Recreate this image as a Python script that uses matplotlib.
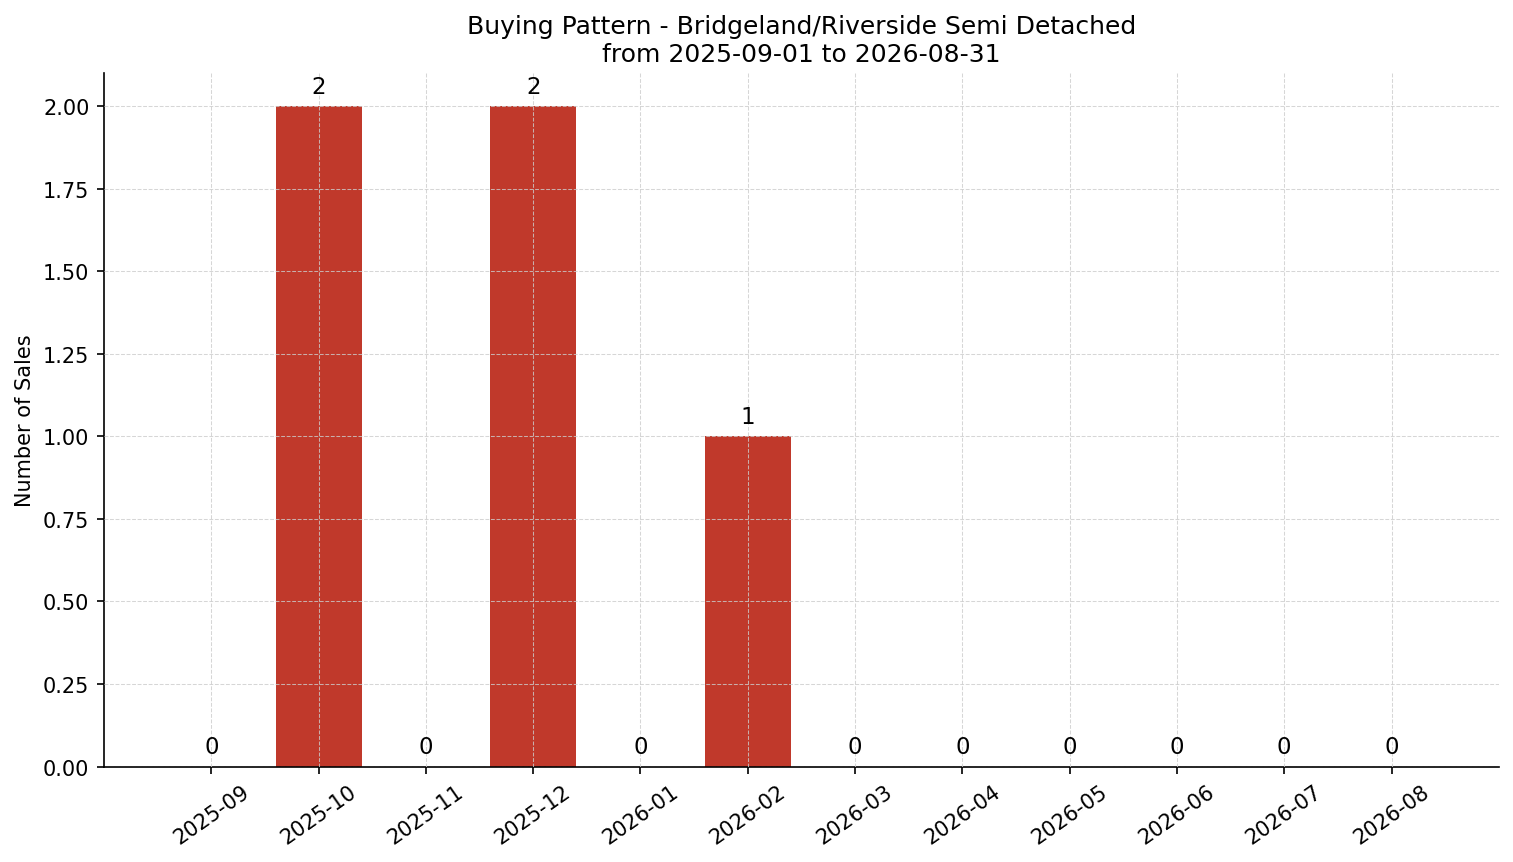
import numpy as np
import matplotlib.pyplot as plt

months = ["2025-09", "2025-10", "2025-11", "2025-12", "2026-01", "2026-02",
          "2026-03", "2026-04", "2026-05", "2026-06", "2026-07", "2026-08"]
sales = [0, 2, 0, 2, 0, 1, 0, 0, 0, 0, 0, 0]

fig = plt.figure(figsize=(10.093, 5.753), dpi=150)
ax = fig.add_axes([0.0687, 0.1106, 0.9213, 0.8036])

x = np.arange(len(months))
bars = ax.bar(x, sales, width=0.8, color="#c0392b", zorder=2)
for b, v in zip(bars, sales):
    ax.annotate(str(v), (b.get_x() + b.get_width() / 2, v),
                xytext=(0, 4), textcoords="offset points",
                ha="center", va="bottom", fontsize=11)

ax.set_xticks(x)
ax.set_xticklabels(months, rotation=35)
ax.set_xlim(-1, 12)
ax.set_ylim(0, 2.1)
ax.set_ylabel("Number of Sales")
ax.set_title("Buying Pattern - Bridgeland/Riverside Semi Detached\nfrom 2025-09-01 to 2026-08-31")
ax.grid(True, linestyle="--", linewidth=0.5, color="#cccccc", alpha=0.8, zorder=0)
ax.set_axisbelow(False)
ax.spines["top"].set_visible(False)
ax.spines["right"].set_visible(False)

fig.savefig("out.png", dpi=150)
